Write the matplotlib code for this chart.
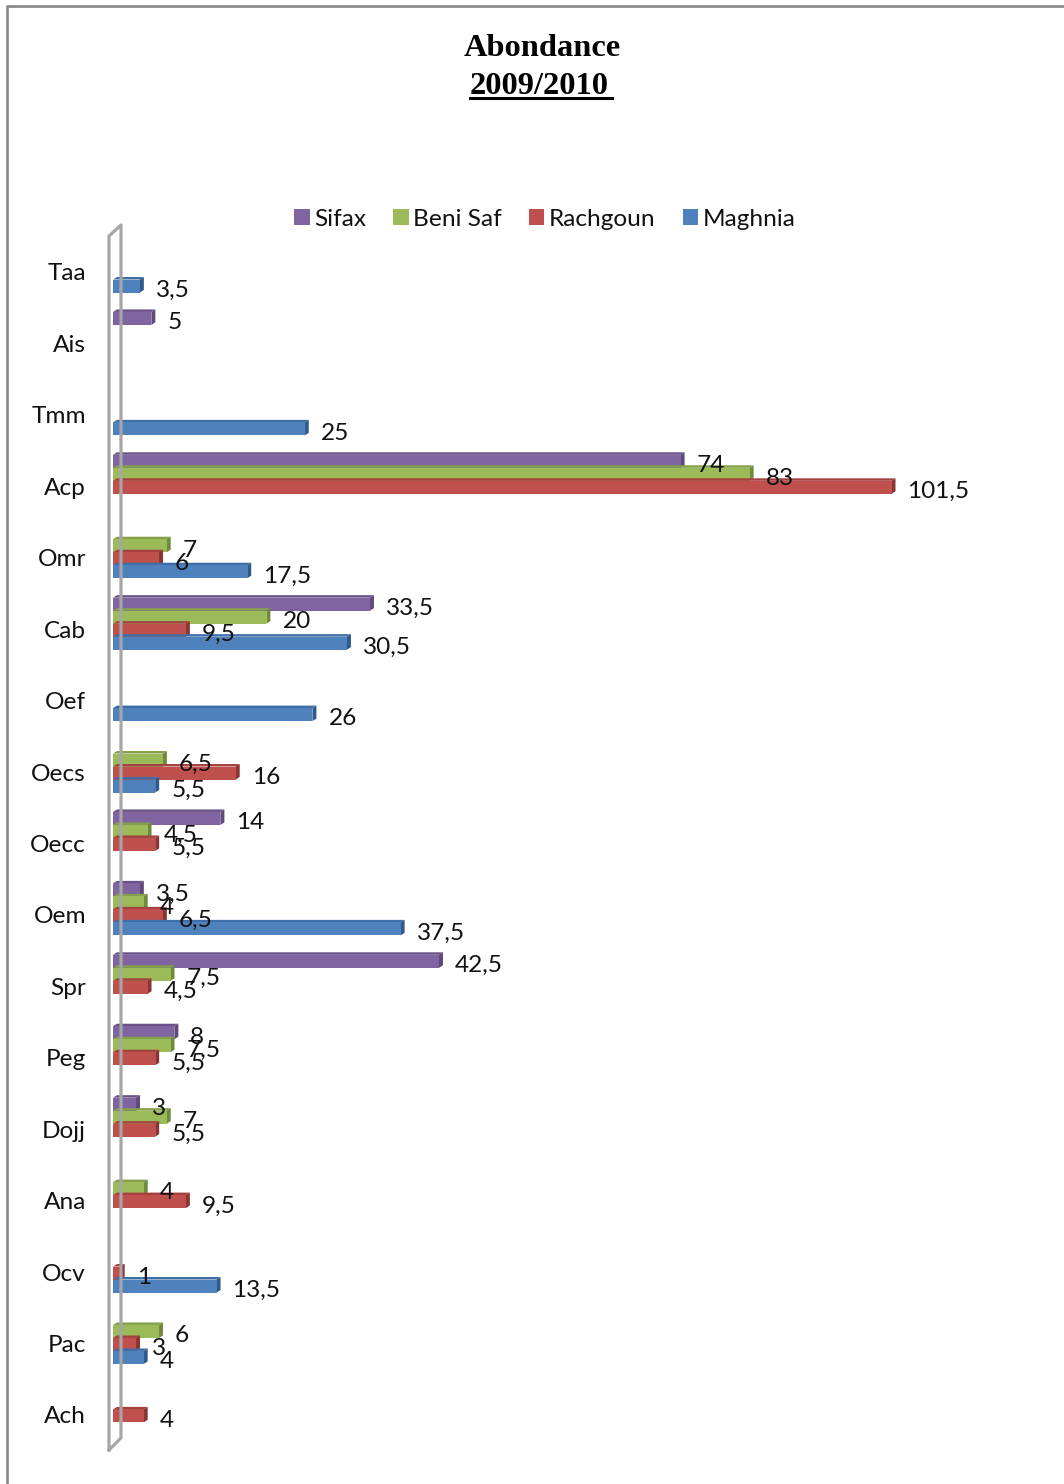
import matplotlib
matplotlib.use("Agg")
import matplotlib.pyplot as plt
from matplotlib.lines import Line2D
from matplotlib.patches import Patch

categories = ["Taa", "Ais", "Tmm", "Acp", "Omr", "Cab", "Oef", "Oecs", "Oecc",
              "Oem", "Spr", "Peg", "Dojj", "Ana", "Ocv", "Pac", "Ach"]
sifax = [None, 5, None, 74, None, 33.5, None, None, 14, 3.5, 42.5, 8, 3, None, None, None, None]
beni_saf = [None, None, None, 83, 7, 20, None, 6.5, 4.5, 4, 7.5, 7.5, 7, 4, None, 6, None]
rachgoun = [None, None, None, 101.5, 6, 9.5, None, 16, 5.5, 6.5, 4.5, 5.5, 5.5, 9.5, 1, 3, 4]
maghnia = [3.5, None, 25, None, 17.5, 30.5, 26, 5.5, None, 37.5, None, None, None, None, 13.5, 4, None]

W, H = 1064, 1484
PX_X = 7.67    # pixels per unit of abundance
PX_Y = 71.43   # pixels per category
LEFT, RIGHT, TOP, BOTTOM = 113, 1040, 225, 1450
FIRST_Y = 272
FS = 17.6

series = [
    ("Sifax", sifax, "#8064A2", "#5F4A7A", "#6A5288", -25),
    ("Beni Saf", beni_saf, "#9BBB59", "#6F8A3A", "#84A04A", -12),
    ("Rachgoun", rachgoun, "#C0504D", "#8C3432", "#A5423F", 1),
    ("Maghnia", maghnia, "#4F81BD", "#2F5A8C", "#3F6DA5", 14),
]

plt.rcParams["font.family"] = ["Lato", "DejaVu Sans"]

fig = plt.figure(figsize=(W / 100, H / 100), dpi=100)
fig.patch.set_facecolor("white")
ax = fig.add_axes([LEFT / W, 1 - BOTTOM / H, (RIGHT - LEFT) / W, (BOTTOM - TOP) / H])
ax.set_xlim(0, (RIGHT - LEFT) / PX_X)
ax.set_ylim((BOTTOM - FIRST_Y) / PX_Y, (TOP - FIRST_Y) / PX_Y)
ax.patch.set_alpha(0)
for s in ax.spines.values():
    s.set_visible(False)
ax.set_xticks([])
ax.set_yticks(range(len(categories)))
ax.set_yticklabels(categories, fontsize=FS, color="#111111")
ax.tick_params(axis="y", length=0, pad=19.4)

# outer frame and the thin chart wall
def px_line(xs, ys, color, lw):
    fig.add_artist(Line2D([x / W for x in xs], [1 - y / H for y in ys], color=color, lw=lw))

px_line([7, 7, W], [H, 6, 6], "#8C8C8C", 2)
px_line([109, 109, 121, 121, 109], [1450, 236, 225, 1438, 1450], "#A6A6A6", 2.3)

bar_h = 13 / PX_Y
dx = 4 / PX_X
dy = 2.5 / PX_Y
label_items = []
z = 3
for name, vals, col, side, top, off in series:
    for i, v in enumerate(vals):
        if v is None:
            continue
        yc = i + off / PX_Y
        y0 = yc - bar_h / 2
        y1 = yc + bar_h / 2
        ax.fill([0, dx, v + dx, v], [y0, y0 - dy, y0 - dy, y0], color=top, lw=0, zorder=z)
        ax.fill([v, v + dx, v + dx, v], [y0, y0 - dy, y1 - dy, y1], color=side, lw=0, zorder=z)
        ax.barh(yc, v, height=bar_h, color=col, lw=0, zorder=z + 0.1)
        label_items.append((v + dx, yc, f"{v:g}".replace(".", ",")))
    z += 1

for v, yc, txt in label_items:
    ax.annotate(txt, (v, yc), xytext=(12 * 0.72, -3.1), textcoords="offset points",
                ha="left", va="center", fontsize=FS, color="#111111", zorder=10)

# title
fig.text(542 / W, 1 - 48 / H, "Abondance", family="Liberation Serif", weight="bold",
         fontsize=23.4, ha="center", va="center", color="black")
fig.text(470 / W, 1 - 86 / H, "2009/2010", family="Liberation Serif", weight="bold",
         fontsize=23.4, ha="left", va="center", color="black")
px_line([470, 612], [98, 98], "black", 2.2)

handles = [Patch(facecolor=s[2], edgecolor="none", label=s[0]) for s in series]
fig.legend(handles=handles, ncol=4, loc="center", bbox_to_anchor=(545 / W, 1 - 219 / H),
           frameon=False, fontsize=FS, handlelength=0.62, handleheight=0.62,
           handletextpad=0.2, columnspacing=1.1, labelcolor="#111111",
           borderpad=0, borderaxespad=0)

fig.savefig("out.png", dpi=100)
